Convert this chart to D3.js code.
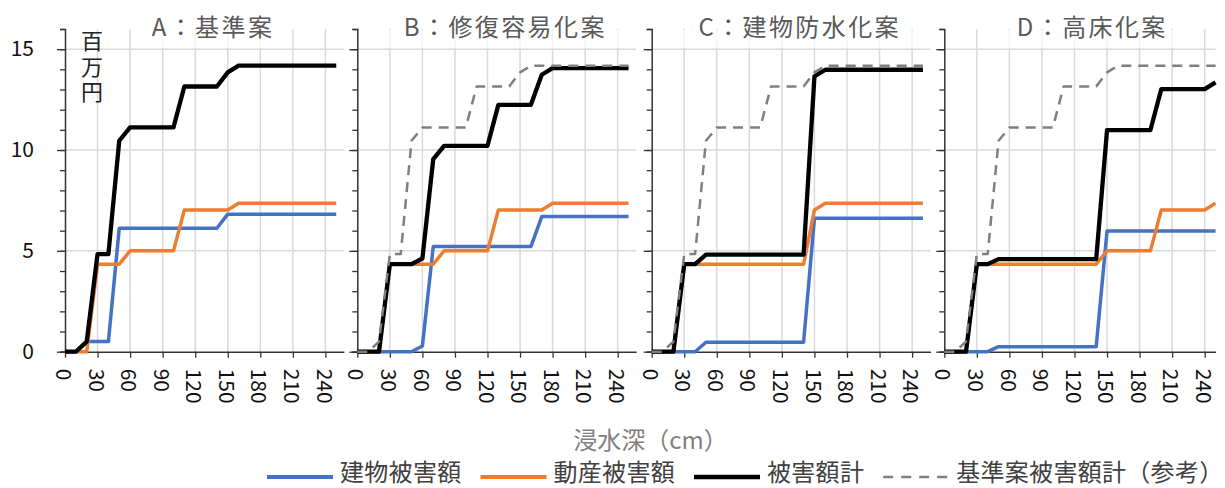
<!DOCTYPE html>
<html><head><meta charset="utf-8">
<script src="https://cdn.jsdelivr.net/npm/d3@7"></script>
<style>
body{margin:0;background:#fff}
svg{display:block}
text{font-family:"Noto Sans CJK JP","Noto Sans",sans-serif}
</style>
</head><body>
<svg id="chart" width="1225" height="488"></svg>
<script>
// ---------- data ----------
const depths = [0,10,20,30,40,50,60,70,80,90,100,110,120,130,140,150,160,170,180,190,200,210,220,230,240,250];
const xTickValues = [0,30,60,90,120,150,180,210,240];
const yLabelValues = [0,5,10,15];
const panelTitles = ["A：基準案","B：修復容易化案","C：建物防水化案","D：高床化案"];
const legendLabels = ["建物被害額","動産被害額","被害額計","基準案被害額計（参考）"];
const unitLabel = "百万円";
const xTitle = "浸水深（cm）";

const buildingA = [0,0,0.5,0.5,0.5,6.12,6.12,6.12,6.12,6.12,6.12,6.12,6.12,6.12,6.12,6.82,6.82,6.82,6.82,6.82,6.82,6.82,6.82,6.82,6.82,6.82];
const contentsA = [0,0,0,4.34,4.34,4.34,5.0,5.0,5.0,5.0,5.0,7.03,7.03,7.03,7.03,7.03,7.36,7.36,7.36,7.36,7.36,7.36,7.36,7.36,7.36,7.36];
const totalA    = [0,0,0.5,4.84,4.84,10.46,11.12,11.12,11.12,11.12,11.12,13.15,13.15,13.15,13.15,13.85,14.18,14.18,14.18,14.18,14.18,14.18,14.18,14.18,14.18,14.18];

const buildingB = [0,0,0,0,0,0,0.28,5.21,5.21,5.21,5.21,5.21,5.21,5.21,5.21,5.21,5.21,6.70,6.70,6.70,6.70,6.70,6.70,6.70,6.70,6.70];
const contentsB = [0,0,0,4.34,4.34,4.34,4.34,4.34,5.0,5.0,5.0,5.0,5.0,7.03,7.03,7.03,7.03,7.03,7.36,7.36,7.36,7.36,7.36,7.36,7.36,7.36];
const totalB    = [0,0,0,4.34,4.34,4.34,4.62,9.55,10.21,10.21,10.21,10.21,10.21,12.24,12.24,12.24,12.24,13.73,14.06,14.06,14.06,14.06,14.06,14.06,14.06,14.06];

const buildingC = [0,0,0,0,0,0.47,0.47,0.47,0.47,0.47,0.47,0.47,0.47,0.47,0.47,6.62,6.62,6.62,6.62,6.62,6.62,6.62,6.62,6.62,6.62,6.62];
const contentsC = [0,0,0,4.34,4.34,4.34,4.34,4.34,4.34,4.34,4.34,4.34,4.34,4.34,4.34,7.03,7.36,7.36,7.36,7.36,7.36,7.36,7.36,7.36,7.36,7.36];
const totalC    = [0,0,0,4.34,4.34,4.81,4.81,4.81,4.81,4.81,4.81,4.81,4.81,4.81,4.81,13.65,13.98,13.98,13.98,13.98,13.98,13.98,13.98,13.98,13.98,13.98];

const buildingD = [0,0,0,0,0,0.25,0.25,0.25,0.25,0.25,0.25,0.25,0.25,0.25,0.25,5.99,5.99,5.99,5.99,5.99,5.99,5.99,5.99,5.99,5.99,5.99];
const contentsD = [0,0,0,4.34,4.34,4.34,4.34,4.34,4.34,4.34,4.34,4.34,4.34,4.34,4.34,5.0,5.0,5.0,5.0,5.0,7.03,7.03,7.03,7.03,7.03,7.36];
const totalD    = [0,0,0,4.34,4.34,4.59,4.59,4.59,4.59,4.59,4.59,4.59,4.59,4.59,4.59,10.99,10.99,10.99,10.99,10.99,13.02,13.02,13.02,13.02,13.02,13.35];

const referenceTotal = totalA;

// ---------- layout / style ----------
const colors = {building:"#4472C4", contents:"#ED7D31", total:"#000000", ref:"#7F7F7F"};
const panelX0 = [65, 357.3, 651.7, 944.3];
const panelXMax = [257, 257, 257, 250];
const pxPerUnit = 32.55/30;
const gridColor = "#D9D9D9";
const axisColor = "#333333";

const panels = [
  {title:panelTitles[0], building:buildingA, contents:contentsA, total:totalA, ref:null},
  {title:panelTitles[1], building:buildingB, contents:contentsB, total:totalB, ref:referenceTotal},
  {title:panelTitles[2], building:buildingC, contents:contentsC, total:totalC, ref:referenceTotal},
  {title:panelTitles[3], building:buildingD, contents:contentsD, total:totalD, ref:referenceTotal}
];

const svg = d3.select("#chart");
const y = d3.scaleLinear().domain([0,16]).range([351.7, 29]);
const yMinor = d3.range(0,17);

panels.forEach((p,i)=>{
  const x0 = panelX0[i], xMax = panelXMax[i];
  const x = d3.scaleLinear().domain([0,xMax]).range([x0, x0 + xMax*pxPerUnit]);
  const g = svg.append("g");

  // gridlines
  g.selectAll("line.vg").data(xTickValues.filter(d=>d>0)).join("line")
    .attr("x1",d=>x(d)).attr("x2",d=>x(d)).attr("y1",y(16)).attr("y2",y(0))
    .attr("stroke",gridColor).attr("stroke-width",1.5);
  g.selectAll("line.hg").data(yLabelValues.filter(d=>d>0)).join("line")
    .attr("x1",x(0)).attr("x2",x(xMax)).attr("y1",d=>y(d)).attr("y2",d=>y(d))
    .attr("stroke",gridColor).attr("stroke-width",1.5);

  // title with faint box
  const cx = x0 + 148;
  const tt = g.append("text").attr("x",cx).attr("y",25).attr("text-anchor","middle")
    .attr("dominant-baseline","central").attr("font-size",24).attr("letter-spacing","2.4px")
    .attr("fill","#595959").text(p.title);
  const tw = tt.node().getComputedTextLength();
  g.insert("rect", "text").attr("x",cx - tw/2 - 18).attr("y",y(16)+1).attr("width",tw+36).attr("height",y(15)-y(16)-2)
    .attr("fill","#fff").attr("fill-opacity",0.7);

  // y axis
  const yAxisMinor = d3.axisLeft(y).tickValues(yMinor).tickSize(5).tickFormat("");
  const ya = g.append("g").attr("transform",`translate(${x0},0)`).call(yAxisMinor);
  ya.select(".domain").attr("stroke",axisColor).attr("stroke-width",1.5);
  ya.selectAll(".tick line").attr("stroke",axisColor).attr("stroke-width",1.3);
  const yAxisMajor = d3.axisLeft(y).tickValues(yLabelValues).tickSize(8).tickPadding(23)
    .tickFormat(i===0 ? d3.format("d") : "");
  const yb = g.append("g").attr("transform",`translate(${x0},0)`).call(yAxisMajor);
  yb.select(".domain").remove();
  yb.selectAll(".tick line").attr("stroke",axisColor).attr("stroke-width",1.3);
  yb.selectAll(".tick text").attr("font-size",21).attr("fill","#111")
    .style("font-family",'"Noto Sans CJK JP","Noto Sans",sans-serif');

  // x axis
  const xAxis = d3.axisBottom(x).tickValues(xTickValues).tickSize(6).tickSizeOuter(0).tickFormat(d3.format("d"));
  const xa = g.append("g").attr("transform",`translate(0,${y(0)})`).call(xAxis);
  xa.select(".domain").attr("stroke",axisColor).attr("stroke-width",1.5);
  xa.selectAll(".tick line").attr("stroke",axisColor).attr("stroke-width",1.3);
  xa.selectAll(".tick text").attr("font-size",21).attr("fill","#111")
    .style("font-family",'"Noto Sans CJK JP","Noto Sans",sans-serif')
    .attr("text-anchor","start").attr("x",0).attr("y",0).attr("dy","0.35em")
    .attr("transform","translate(-2,17) rotate(90)");

  // lines
  const line = d3.line().x((d,k)=>x(depths[k])).y(d=>y(d)).curve(d3.curveLinear);
  const draw = (vals,color,w,dash)=>{
    const path = g.append("path").datum(vals).attr("d",line).attr("fill","none")
      .attr("stroke",color).attr("stroke-width",w).attr("stroke-linejoin","round");
    if(dash) path.attr("stroke-dasharray",dash);
  };
  draw(p.building, colors.building, 3.5);
  draw(p.contents, colors.contents, 3.5);
  draw(p.total, colors.total, 4.3);
  if(p.ref) draw(p.ref, colors.ref, 2.5, "10,7");
});

// unit label (vertical text)
svg.append("text").attr("x",92).attr("y",30).attr("font-size",22).attr("fill","#222")
  .style("writing-mode","vertical-rl").attr("letter-spacing","3.5px").text(unitLabel);

// x title
svg.append("text").attr("x",650.5).attr("y",438).attr("text-anchor","middle")
  .attr("dominant-baseline","central").attr("font-size",24).attr("fill","#808080").text(xTitle);

// legend
const legendStyles = [
  {color:colors.building, w:3.8, dash:null},
  {color:colors.contents, w:3.8, dash:null},
  {color:colors.total, w:4.5, dash:null},
  {color:colors.ref, w:2.5, dash:"10,8"}
];
const lg = svg.append("g");
let lx = 267;
legendLabels.forEach((lab,k)=>{
  const st = legendStyles[k];
  const ln = lg.append("line").attr("x1",lx).attr("x2",lx+66).attr("y1",477).attr("y2",477)
    .attr("stroke",st.color).attr("stroke-width",st.w);
  if(st.dash) ln.attr("stroke-dasharray",st.dash);
  const t = lg.append("text").attr("x",lx+73).attr("y",481).attr("font-size",24)
    .attr("letter-spacing","0.3px").attr("fill","#404040").text(lab);
  lx = lx + 73 + t.node().getComputedTextLength() + 19;
});
</script>
</body></html>
